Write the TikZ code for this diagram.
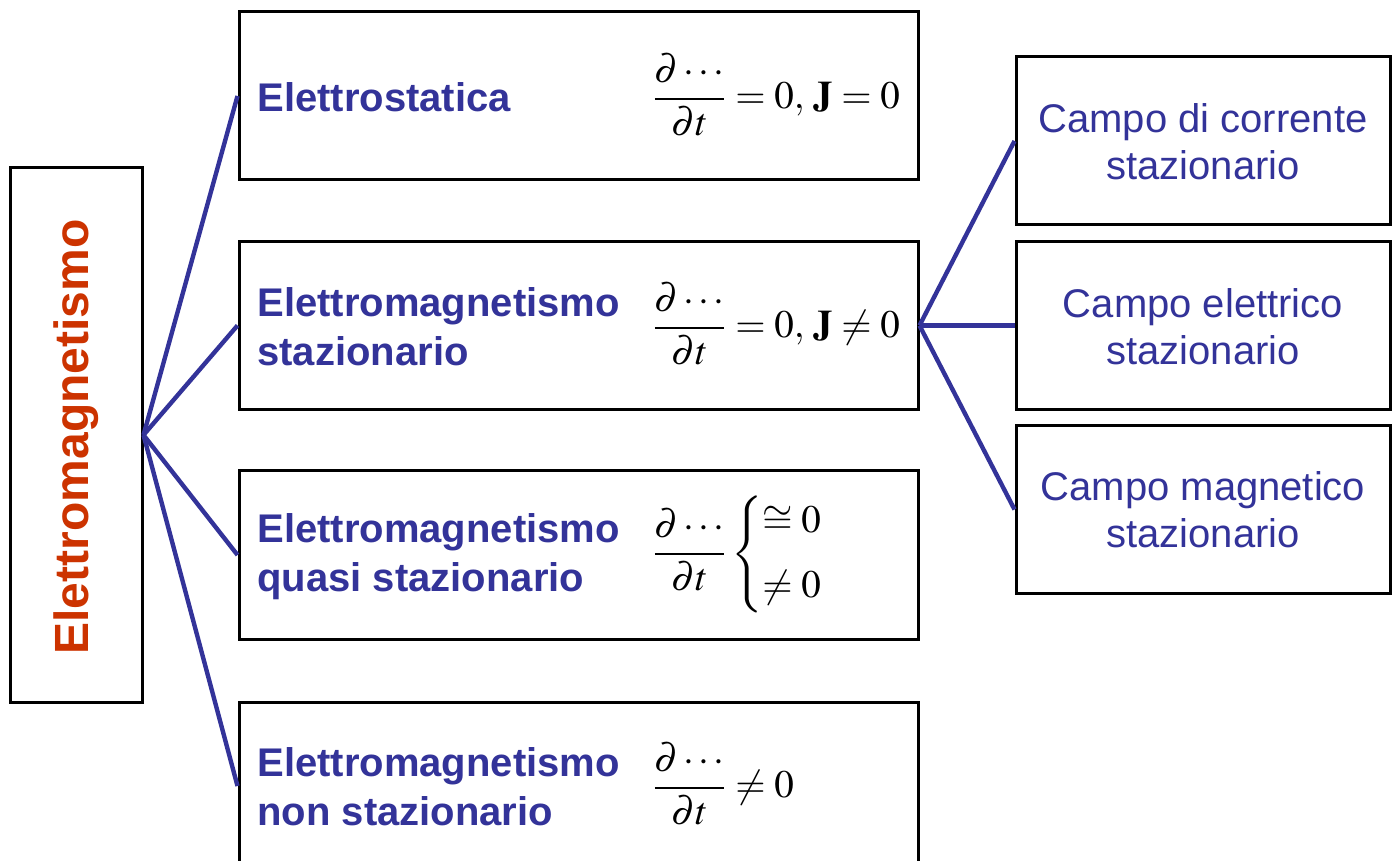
\documentclass[tikz,border=0pt]{standalone}
\usepackage{amsmath}
\usepackage{mathptmx}
\usepackage{fontspec}
\setmainfont{Liberation Sans}
\definecolor{lineblue}{HTML}{333399}
\definecolor{titlered}{HTML}{CC3300}
\tikzset{
  frame/.style={draw=black, line width=1.5pt, fill=white, inner sep=0pt},
  wide/.style={frame, minimum width=339.5pt, minimum height=84pt},
  side/.style={frame, minimum width=187pt, minimum height=84pt},
  link/.style={draw=lineblue, line width=2.2pt},
  label/.style={anchor=west, inner sep=0pt, align=left, text=lineblue,
    font=\fontsize{20}{24.5}\selectfont\bfseries},
  sidetext/.style={inner sep=0pt, align=center, text=lineblue,
    font=\fontsize{20}{23.5}\selectfont},
  formula/.style={anchor=west, inner sep=0pt, font=\fontsize{19.5}{23}\selectfont}
}
\begin{document}
\begin{tikzpicture}[x=0.5pt, y=-0.5pt]
  \useasboundingbox (0,0) rectangle (1394,861);
  \clip (0,0) rectangle (1394,861);

  % root box
  \node[frame, minimum width=66pt, minimum height=267pt] (root) at (76,435) {};
  \node[rotate=90, inner sep=0pt, text=titlered,
        font=\fontsize{24}{28}\selectfont\bfseries] (roottext) at (76,437) {Elettromagnetismo};

  % four regimes
  \node[wide] (b1) at (578.5,96) {};
  \node[wide] (b2) at (578.5,325.5) {};
  \node[wide] (b3) at (578.5,555) {};
  \node[wide] (b4) at (578.5,786) {};

  % stationary sub-fields
  \node[side] (r1) at (1203,141) {};
  \node[side] (r2) at (1203,325.5) {};
  \node[side] (r3) at (1203,509.5) {};

  % connectors
  \foreach \b in {b1,b2,b3,b4} \draw[link] (root.east) -- (\b.west);
  \foreach \r in {r1,r2,r3} \draw[link] (b2.east) -- (\r.west);

  % labels
  \node[label] (t1) at (257,97) {Elettrostatica};
  \node[label] (t2) at (257,327) {Elettromagnetismo\\stazionario};
  \node[label] (t3) at (257,557) {Elettromagnetismo\\quasi stazionario};
  \node[label] (t4) at (257,787) {Elettromagnetismo\\non stazionario};

  \node[formula] (f1) at (652,95) {$\displaystyle\frac{\partial\cdots}{\partial t}=0,\,\mathbf{J}=0$};
  \node[formula] (f2) at (652,324) {$\displaystyle\frac{\partial\cdots}{\partial t}=0,\,\mathbf{J}\neq0$};
  \node[formula] (f3) at (652,554) {$\displaystyle\frac{\partial\cdots}{\partial t}\begin{cases}\cong0\\[5pt] \neq0\end{cases}$};
  \node[formula] (f4) at (652,784) {$\displaystyle\frac{\partial\cdots}{\partial t}\neq0$};

  \node[sidetext] (s1) at (1203,142) {Campo di corrente\\stazionario};
  \node[sidetext] (s2) at (1203,327) {Campo elettrico\\stazionario};
  \node[sidetext] (s3) at (1203,510) {Campo magnetico\\stazionario};
\end{tikzpicture}
\end{document}
